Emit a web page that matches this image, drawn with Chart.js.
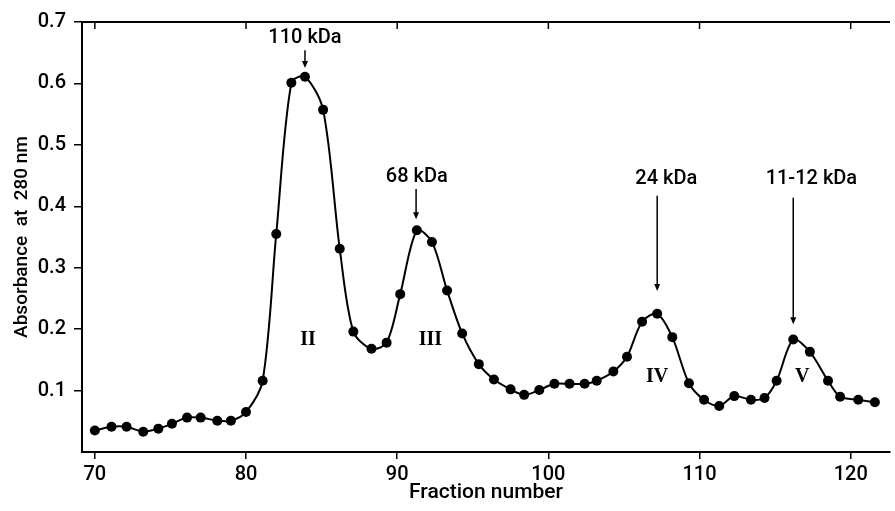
<!DOCTYPE html>
<html>
<head>
<meta charset="utf-8">
<script src="https://cdn.jsdelivr.net/npm/chart.js@4"></script>
<style>
html, body { margin: 0; padding: 0; background: #fff; }
</style>
</head>
<body>
<canvas id="chart" width="895" height="511"></canvas>
<script>
// gel filtration profile
const fractions = [70.0, 71.1, 72.1, 73.2, 74.2, 75.1, 76.1, 77.0, 78.1, 79.0, 80.0, 81.1,
    82.0, 83.0, 83.9, 85.1, 86.2, 87.1, 88.3, 89.3, 90.2, 91.3, 92.3, 93.3, 94.3, 95.4,
    96.4, 97.5, 98.4, 99.4, 100.4, 101.4, 102.4, 103.2, 104.3, 105.2, 106.2, 107.2, 108.2,
    109.3, 110.3, 111.3, 112.3, 113.4, 114.3, 115.1, 116.2, 117.3, 118.5, 119.3, 120.5, 121.6];
const absorbance = [0.035, 0.041, 0.041, 0.033, 0.038, 0.046, 0.056, 0.056, 0.051, 0.051, 0.065, 0.116,
    0.355, 0.601, 0.611, 0.557, 0.331, 0.196, 0.168, 0.178, 0.257, 0.361, 0.342, 0.263, 0.193, 0.143,
    0.118, 0.102, 0.093, 0.101, 0.111, 0.111, 0.111, 0.116, 0.131, 0.155, 0.212, 0.225, 0.187,
    0.112, 0.085, 0.075, 0.091, 0.085, 0.088, 0.116, 0.183, 0.163, 0.116, 0.090, 0.085, 0.081];

const xTicks = [70, 80, 90, 100, 110, 120];
const yTicks = [0.1, 0.2, 0.3, 0.4, 0.5, 0.6, 0.7];

// molecular weight markers
const peakLabels = ['110 kDa', '68 kDa', '24 kDa', '11-12 kDa'];
const peakLabelX = [83.9, 91.3, 107.8, 117.4];
const peakLabelY = [0.674, 0.448, 0.445, 0.445];
const arrowX = [83.9, 91.25, 107.2, 116.2];
const arrowFrom = [0.654, 0.428, 0.417, 0.414];
const arrowTo = [0.625, 0.379, 0.262, 0.208];

// peak numbers
const romanLabels = ['II', 'III', 'IV', 'V'];
const romanX = [84.1, 92.2, 107.2, 116.8];
const romanY = [0.183, 0.183, 0.123, 0.123];

Chart.defaults.font.family = 'Roboto';
Chart.defaults.color = '#000';

const points = fractions.map((f, i) => ({x: f, y: absorbance[i]}));

const markerPlugin = {
    id: 'markers',
    afterDraw(chart) {
        const ctx = chart.ctx;
        const area = chart.chartArea;
        const xs = chart.scales.x;
        const ys = chart.scales.y;
        ctx.save();
        // top frame with inward ticks
        ctx.strokeStyle = '#000';
        ctx.lineWidth = 2;
        ctx.beginPath();
        ctx.moveTo(area.left - 1, area.top);
        ctx.lineTo(area.right, area.top);
        ctx.stroke();
        ctx.lineWidth = 1.5;
        xTicks.forEach(v => {
            const px = xs.getPixelForValue(v);
            ctx.beginPath();
            ctx.moveTo(px, area.top);
            ctx.lineTo(px, area.top + 7);
            ctx.stroke();
        });

        ctx.fillStyle = '#000';
        ctx.textAlign = 'center';
        ctx.textBaseline = 'middle';
        ctx.font = '500 20px Roboto';
        peakLabels.forEach((t, i) => {
            ctx.fillText(t, xs.getPixelForValue(peakLabelX[i]), ys.getPixelForValue(peakLabelY[i]));
            const ax = xs.getPixelForValue(arrowX[i]);
            const y0 = ys.getPixelForValue(arrowFrom[i]);
            const y1 = ys.getPixelForValue(arrowTo[i]);
            ctx.lineWidth = 1.5;
            ctx.beginPath();
            ctx.moveTo(ax, y0);
            ctx.lineTo(ax, y1 - 5);
            ctx.stroke();
            ctx.beginPath();
            ctx.moveTo(ax - 3, y1 - 7);
            ctx.lineTo(ax + 3, y1 - 7);
            ctx.lineTo(ax, y1);
            ctx.closePath();
            ctx.fill();
        });

        ctx.font = 'bold 20px "Liberation Serif"';
        romanLabels.forEach((t, i) => {
            ctx.fillText(t, xs.getPixelForValue(romanX[i]), ys.getPixelForValue(romanY[i]));
        });
        ctx.restore();
    }
};

new Chart(document.getElementById('chart'), {
    type: 'line',
    data: {
        datasets: [{
            data: points,
            borderColor: '#000',
            backgroundColor: '#000',
            borderWidth: 2,
            pointRadius: 5,
            pointBackgroundColor: '#000',
            pointBorderWidth: 0,
            tension: 0.3,
            fill: false
        }]
    },
    options: {
        responsive: false,
        animation: false,
        layout: { padding: { top: 22, right: 0, left: 0, bottom: 0 } },
        plugins: { legend: { display: false }, tooltip: { enabled: false } },
        scales: {
            x: {
                type: 'linear',
                min: 69.15,
                max: 122.6,
                afterBuildTicks: s => { s.ticks = xTicks.map(v => ({value: v})); },
                afterFit: s => { s.height = 59; },
                ticks: { font: { size: 20, weight: 500 }, padding: 4, maxRotation: 0, autoSkip: false },
                grid: { drawOnChartArea: false, drawTicks: true, tickLength: 7, color: '#000', lineWidth: 1.5 },
                border: { display: true, color: '#000', width: 2 },
                title: { display: true, text: 'Fraction number', font: { size: 21, weight: 500 }, padding: { top: 0, bottom: 6 } }
            },
            y: {
                min: 0,
                max: 0.7,
                afterBuildTicks: s => { s.ticks = yTicks.map(v => ({value: v})); },
                afterFit: s => { s.width = 82; },
                ticks: { font: { size: 20, weight: 500 }, padding: 8, callback: v => v.toFixed(1) },
                grid: { drawOnChartArea: false, drawTicks: true, tickLength: 8, color: '#000', lineWidth: 1.5 },
                border: { display: true, color: '#000', width: 2 },
                title: { display: true, text: 'Absorbance  at  280 nm', font: { size: 19, weight: 500 }, padding: { top: 11, bottom: 0 } }
            }
        }
    },
    plugins: [markerPlugin]
});
</script>
</body>
</html>
